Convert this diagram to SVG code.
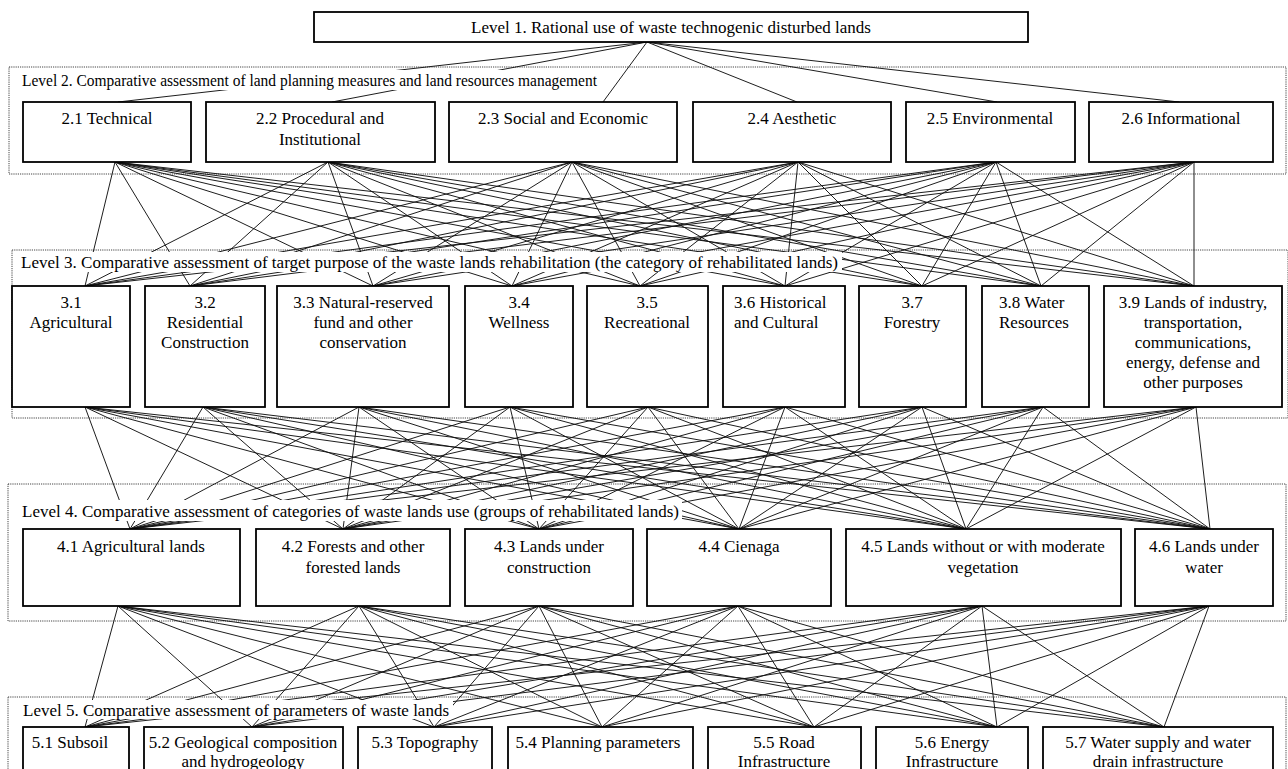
<svg xmlns="http://www.w3.org/2000/svg" width="1288" height="769" viewBox="0 0 1288 769">
<style>
.frame{fill:none;stroke:#444;stroke-width:1;stroke-dasharray:1.2 1}
.box{fill:#fff;stroke:#000;stroke-width:1.8}
.lbg{fill:#fff}
text{font-family:"Liberation Serif","Times New Roman",serif;font-size:17px;fill:#000}
.c{text-anchor:middle}
.conn{fill:none;stroke:#111;stroke-width:0.95}
</style>
<rect width="1288" height="769" fill="#fff"/>
<g id="frames">
<rect class="frame" x="9" y="67" width="1277" height="107"/>
<rect class="frame" x="12" y="250" width="1276" height="168"/>
<rect class="frame" x="8" y="484" width="1278" height="137"/>
<rect class="frame" x="8" y="697" width="1278" height="90"/>
</g>
<g id="connectors">
<path class="conn" d="M647 42L118 102M647 42L332 102M647 42L603 102M647 42L797 102M647 42L997 102M647 42L1179 102"/>
<path class="conn" d="M115 162L85 286M115 162L190 286M115 162L373 286M115 162L512 286M115 162L640 286M115 162L785 286M115 162L922 286M115 162L1041 286M115 162L1194 286"/>
<path class="conn" d="M328 162L85 286M328 162L190 286M328 162L373 286M328 162L512 286M328 162L640 286M328 162L785 286M328 162L922 286M328 162L1041 286M328 162L1194 286"/>
<path class="conn" d="M572 162L85 286M572 162L190 286M572 162L373 286M572 162L512 286M572 162L640 286M572 162L785 286M572 162L922 286M572 162L1041 286M572 162L1194 286"/>
<path class="conn" d="M798 162L85 286M798 162L190 286M798 162L373 286M798 162L512 286M798 162L640 286M798 162L785 286M798 162L922 286M798 162L1041 286M798 162L1194 286"/>
<path class="conn" d="M996 162L85 286M996 162L190 286M996 162L373 286M996 162L512 286M996 162L640 286M996 162L785 286M996 162L922 286M996 162L1041 286M996 162L1194 286"/>
<path class="conn" d="M1194 162L85 286M1194 162L190 286M1194 162L373 286M1194 162L512 286M1194 162L640 286M1194 162L785 286M1194 162L922 286M1194 162L1041 286M1194 162L1194 286"/>
<path class="conn" d="M85 407L130 529M85 407L343 529M85 407L539 529M85 407L739 529M85 407L966 529M85 407L1210 529"/>
<path class="conn" d="M203 407L130 529M203 407L343 529M203 407L539 529M203 407L739 529M203 407L966 529M203 407L1210 529"/>
<path class="conn" d="M359 407L130 529M359 407L343 529M359 407L539 529M359 407L739 529M359 407L966 529M359 407L1210 529"/>
<path class="conn" d="M510 407L130 529M510 407L343 529M510 407L539 529M510 407L739 529M510 407L966 529M510 407L1210 529"/>
<path class="conn" d="M648 407L130 529M648 407L343 529M648 407L539 529M648 407L739 529M648 407L966 529M648 407L1210 529"/>
<path class="conn" d="M785 407L130 529M785 407L343 529M785 407L539 529M785 407L739 529M785 407L966 529M785 407L1210 529"/>
<path class="conn" d="M922 407L130 529M922 407L343 529M922 407L539 529M922 407L739 529M922 407L966 529M922 407L1210 529"/>
<path class="conn" d="M1043 407L130 529M1043 407L343 529M1043 407L539 529M1043 407L739 529M1043 407L966 529M1043 407L1210 529"/>
<path class="conn" d="M1196 407L130 529M1196 407L343 529M1196 407L539 529M1196 407L739 529M1196 407L966 529M1196 407L1210 529"/>
<path class="conn" d="M118 606L85 727M118 606L252 727M118 606L434 727M118 606L602 727M118 606L814 727M118 606L997 727M118 606L1164 727"/>
<path class="conn" d="M359 606L85 727M359 606L252 727M359 606L434 727M359 606L602 727M359 606L814 727M359 606L997 727M359 606L1164 727"/>
<path class="conn" d="M539 606L85 727M539 606L252 727M539 606L434 727M539 606L602 727M539 606L814 727M539 606L997 727M539 606L1164 727"/>
<path class="conn" d="M738 606L85 727M738 606L252 727M738 606L434 727M738 606L602 727M738 606L814 727M738 606L997 727M738 606L1164 727"/>
<path class="conn" d="M982 606L85 727M982 606L252 727M982 606L434 727M982 606L602 727M982 606L814 727M982 606L997 727M982 606L1164 727"/>
<path class="conn" d="M1209 606L85 727M1209 606L252 727M1209 606L434 727M1209 606L602 727M1209 606L814 727M1209 606L997 727M1209 606L1164 727"/>
</g>
<g id="level-labels">
<rect class="lbg" x="11" y="70" width="590" height="20"/>
<text x="22" y="86" textLength="575" lengthAdjust="spacingAndGlyphs">Level 2. Comparative assessment of land planning measures and land resources management</text>
<rect class="lbg" x="14" y="252" width="828" height="20"/>
<text x="21" y="268" textLength="817" lengthAdjust="spacingAndGlyphs">Level 3. Comparative assessment of target purpose of the waste lands rehabilitation (the category of rehabilitated lands)</text>
<rect class="lbg" x="10" y="500" width="672" height="21"/>
<text x="22" y="517" textLength="657" lengthAdjust="spacingAndGlyphs">Level 4. Comparative assessment of categories of waste lands use (groups of rehabilitated lands)</text>
<rect class="lbg" x="10" y="700" width="443" height="19"/>
<text x="23" y="716" textLength="426" lengthAdjust="spacingAndGlyphs">Level 5. Comparative assessment of parameters of waste lands</text>
</g>
<g id="n1"><rect class="box" x="314" y="12" width="714" height="30"/><text class="c" x="671" y="33">Level 1. Rational use of waste technogenic disturbed lands</text></g>
<g id="n2-1"><rect class="box" x="23" y="102" width="168" height="60"/><text class="c" x="107" y="124">2.1 Technical</text></g>
<g id="n2-2"><rect class="box" x="206" y="102" width="229" height="60"/><text class="c" x="320" y="124">2.2 Procedural and</text><text class="c" x="320" y="145">Institutional</text></g>
<g id="n2-3"><rect class="box" x="449" y="102" width="228" height="60"/><text class="c" x="563" y="124">2.3 Social and Economic</text></g>
<g id="n2-4"><rect class="box" x="693" y="102" width="198" height="60"/><text class="c" x="792" y="124">2.4 Aesthetic</text></g>
<g id="n2-5"><rect class="box" x="906" y="102" width="169" height="60"/><text class="c" x="990" y="124">2.5 Environmental</text></g>
<g id="n2-6"><rect class="box" x="1089" y="102" width="184" height="60"/><text class="c" x="1181" y="124">2.6 Informational</text></g>
<g id="n3-1"><rect class="box" x="12" y="286" width="118" height="121"/><text class="c" x="71" y="308">3.1</text><text class="c" x="71" y="328">Agricultural</text></g>
<g id="n3-2"><rect class="box" x="145" y="286" width="120" height="121"/><text class="c" x="205" y="308">3.2</text><text class="c" x="205" y="328">Residential</text><text class="c" x="205" y="348">Construction</text></g>
<g id="n3-3"><rect class="box" x="277" y="286" width="172" height="121"/><text class="c" x="363" y="308">3.3 Natural-reserved</text><text class="c" x="363" y="328">fund and other</text><text class="c" x="363" y="348">conservation</text></g>
<g id="n3-4"><rect class="box" x="465" y="286" width="108" height="121"/><text class="c" x="519" y="308">3.4</text><text class="c" x="519" y="328">Wellness</text></g>
<g id="n3-5"><rect class="box" x="587" y="286" width="121" height="121"/><text class="c" x="647" y="308">3.5</text><text class="c" x="647" y="328">Recreational</text></g>
<g id="n3-6"><rect class="box" x="723" y="286" width="122" height="121"/><text x="734" y="308">3.6 Historical</text><text x="734" y="328">and Cultural</text></g>
<g id="n3-7"><rect class="box" x="859" y="286" width="107" height="121"/><text class="c" x="912" y="308">3.7</text><text class="c" x="912" y="328">Forestry</text></g>
<g id="n3-8"><rect class="box" x="982" y="286" width="107" height="121"/><text x="999" y="308">3.8 Water</text><text x="999" y="328">Resources</text></g>
<g id="n3-9"><rect class="box" x="1104" y="286" width="178" height="121"/><text class="c" x="1193" y="308">3.9 Lands of industry,</text><text class="c" x="1193" y="328">transportation,</text><text class="c" x="1193" y="348">communications,</text><text class="c" x="1193" y="368">energy, defense and</text><text class="c" x="1193" y="388">other purposes</text></g>
<g id="n4-1"><rect class="box" x="23" y="529" width="217" height="77"/><text class="c" x="131" y="552">4.1 Agricultural lands</text></g>
<g id="n4-2"><rect class="box" x="256" y="529" width="194" height="77"/><text class="c" x="353" y="552">4.2 Forests and other</text><text class="c" x="353" y="573">forested lands</text></g>
<g id="n4-3"><rect class="box" x="465" y="529" width="168" height="77"/><text class="c" x="549" y="552">4.3 Lands under</text><text class="c" x="549" y="573">construction</text></g>
<g id="n4-4"><rect class="box" x="647" y="529" width="184" height="77"/><text class="c" x="739" y="552">4.4 Cienaga</text></g>
<g id="n4-5"><rect class="box" x="846" y="529" width="275" height="77"/><text class="c" x="983" y="552">4.5 Lands without or with moderate</text><text class="c" x="983" y="573">vegetation</text></g>
<g id="n4-6"><rect class="box" x="1135" y="529" width="138" height="77"/><text class="c" x="1204" y="552">4.6 Lands under</text><text class="c" x="1204" y="573">water</text></g>
<g id="n5-1"><rect class="box" x="23" y="727" width="106" height="70"/><text class="c" x="70" y="748">5.1 Subsoil</text></g>
<g id="n5-2"><rect class="box" x="144" y="727" width="199" height="70"/><text class="c" x="243" y="748">5.2 Geological composition</text><text class="c" x="243" y="767">and hydrogeology</text></g>
<g id="n5-3"><rect class="box" x="358" y="727" width="134" height="70"/><text class="c" x="425" y="748">5.3 Topography</text></g>
<g id="n5-4"><rect class="box" x="508" y="727" width="185" height="70"/><text class="c" x="598" y="748">5.4 Planning parameters</text></g>
<g id="n5-5"><rect class="box" x="708" y="727" width="153" height="70"/><text class="c" x="784" y="748">5.5 Road</text><text class="c" x="784" y="767">Infrastructure</text></g>
<g id="n5-6"><rect class="box" x="876" y="727" width="152" height="70"/><text class="c" x="952" y="748">5.6 Energy</text><text class="c" x="952" y="767">Infrastructure</text></g>
<g id="n5-7"><rect class="box" x="1043" y="727" width="230" height="70"/><text class="c" x="1158" y="748">5.7 Water supply and water</text><text class="c" x="1158" y="767">drain infrastructure</text></g>
</svg>
